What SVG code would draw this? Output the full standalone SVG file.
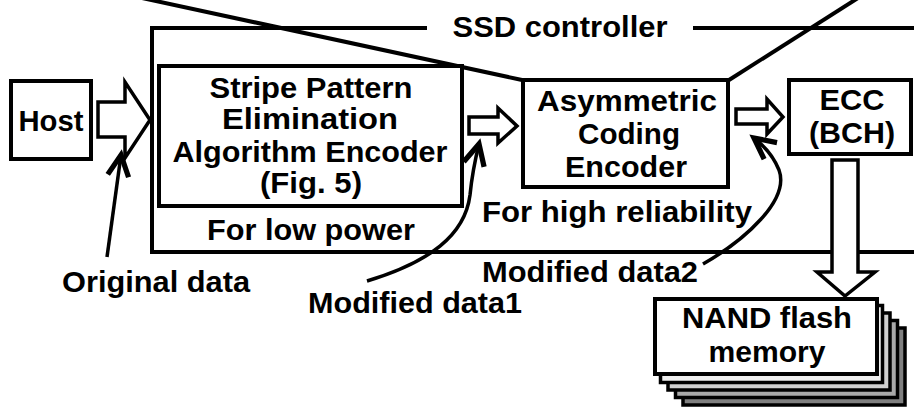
<svg xmlns="http://www.w3.org/2000/svg" width="914" height="407" viewBox="0 0 914 407">
  <style>
    .box { fill: #fff; stroke: #000; stroke-width: 4; }
    .blk { fill: none; stroke: #000; stroke-width: 4; stroke-linecap: butt; }
    .arrow { fill: #fff; stroke: #000; stroke-width: 3.5; stroke-linejoin: miter; }
    .note { fill: none; stroke: #000; stroke-width: 3.5; }
    .lbl { font-family: "Liberation Sans", Arial, sans-serif; font-weight: bold; font-size: 29.5px; fill: #000; text-anchor: middle; }
    .layer { stroke: #000; stroke-width: 3.5; }
  </style>
  <defs>
    <marker id="vhead" markerUnits="userSpaceOnUse" markerWidth="30" markerHeight="30" viewBox="-16 -10 20 20" refX="0" refY="0" orient="auto">
      <path d="M-14,-7 L0,0 L-14,7" fill="none" stroke="#000" stroke-width="3.5"/>
    </marker>
  </defs>
  <rect width="914" height="407" fill="#fff"/>

  <!-- SSD controller frame (open to the right) -->
  <g id="ssd-controller">
    <path class="blk" d="M427,28 H152 V252 H914"/>
    <path class="blk" d="M693,28 H914"/>
    <text class="lbl" x="560" y="37" textLength="215" lengthAdjust="spacingAndGlyphs">SSD controller</text>
  </g>

  <!-- Slanted lines spreading from the Asymmetric Coding Encoder, block arrows and pointers -->
  <g id="connectors">
    <path class="blk" d="M142,-2 L522,80"/>
    <path class="blk" d="M729,80 L858,-2"/>
    <!-- block arrows -->
    <polygon class="arrow" points="98,102 125,102 125,82 150,120 125,158 125,137 98,137"/>
    <polygon class="arrow" points="469,117 498,117 498,108 517,126 498,143 498,134 469,134"/>
    <polygon class="arrow" points="736,109 767,109 767,99 783,117 767,134 767,124 736,124"/>
    <!-- annotation pointers -->
    <path class="note" d="M107,257 L121,155" marker-end="url(#vhead)"/>
    <path class="note" d="M367,281 C430,262 465,235 470,195 C472,175 475,160 479,144" marker-end="url(#vhead)"/>
    <path class="note" d="M703,264 C745,240 790,200 779,170 C773,155 763,145 754,138" marker-end="url(#vhead)"/>
  </g>

  <g id="host">
    <rect class="box" x="11" y="81" width="80" height="78"/>
    <text class="lbl" x="51" y="131" textLength="65" lengthAdjust="spacingAndGlyphs">Host</text>
  </g>

  <g id="stripe-encoder">
    <rect class="box" x="159" y="66" width="303" height="140"/>
    <text class="lbl" x="311" y="98" textLength="203" lengthAdjust="spacingAndGlyphs">Stripe Pattern</text>
    <text class="lbl" x="310" y="129" textLength="176" lengthAdjust="spacingAndGlyphs">Elimination</text>
    <text class="lbl" x="310" y="162" textLength="275" lengthAdjust="spacingAndGlyphs">Algorithm Encoder</text>
    <text class="lbl" x="311" y="193" textLength="102" lengthAdjust="spacingAndGlyphs">(Fig. 5)</text>
    <text class="lbl" x="311" y="240" textLength="208" lengthAdjust="spacingAndGlyphs">For low power</text>
  </g>

  <g id="asymmetric-encoder">
    <rect class="box" x="523" y="80" width="205" height="107"/>
    <text class="lbl" x="627" y="111" textLength="180" lengthAdjust="spacingAndGlyphs">Asymmetric</text>
    <text class="lbl" x="629" y="144" textLength="102" lengthAdjust="spacingAndGlyphs">Coding</text>
    <text class="lbl" x="626" y="177" textLength="122" lengthAdjust="spacingAndGlyphs">Encoder</text>
    <text class="lbl" x="617" y="222" textLength="270" lengthAdjust="spacingAndGlyphs">For high reliability</text>
  </g>

  <g id="ecc">
    <rect class="box" x="789" y="80" width="122" height="74"/>
    <text class="lbl" x="852" y="110" textLength="65" lengthAdjust="spacingAndGlyphs">ECC</text>
    <text class="lbl" x="852" y="143" textLength="86" lengthAdjust="spacingAndGlyphs">(BCH)</text>
  </g>

  <!-- down arrow from ECC to NAND -->
  <g id="ecc-to-nand">
    <polygon class="arrow" points="832,160 858,160 858,272 875,272 845,296 817,272 832,272"/>
  </g>

  <g id="nand-flash">
    <rect class="layer" x="683" y="328" width="222" height="77" fill="#808080"/>
    <rect class="layer" x="675.5" y="320.5" width="222" height="77" fill="#a8a8a8"/>
    <rect class="layer" x="668" y="313" width="222" height="77" fill="#d0d0d0"/>
    <rect class="layer" x="660.5" y="305.5" width="222" height="77" fill="#eeeeee"/>
    <rect class="box" x="655" y="299" width="222" height="75"/>
    <text class="lbl" x="767" y="328" textLength="170" lengthAdjust="spacingAndGlyphs">NAND flash</text>
    <text class="lbl" x="767" y="362" textLength="117" lengthAdjust="spacingAndGlyphs">memory</text>
  </g>

  <!-- annotation labels -->
  <g id="labels">
    <text class="lbl" x="156" y="292" textLength="188" lengthAdjust="spacingAndGlyphs">Original data</text>
    <text class="lbl" x="415" y="313" textLength="214" lengthAdjust="spacingAndGlyphs">Modified data1</text>
    <text class="lbl" x="590" y="282" textLength="216" lengthAdjust="spacingAndGlyphs">Modified data2</text>
  </g>
</svg>
